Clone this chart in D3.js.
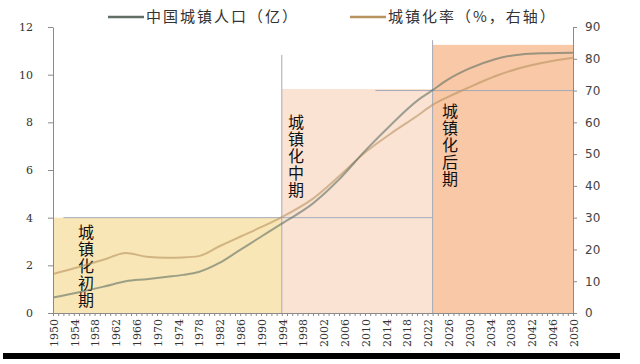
<!DOCTYPE html>
<meta charset="utf-8">
<style>
    body { margin: 0; background: #fff; }
    .axis path, .axis line { stroke: #8a8a8a; }
    .axis text { fill: #333; }
    .ylab text { font: 11px "DejaVu Serif", serif; }
    .y2lab text { font: 12px "DejaVu Sans", sans-serif; fill: #444; }
    .phase { font: 16px "Noto Sans CJK SC", sans-serif; fill: #111; writing-mode: vertical-rl; letter-spacing: 1px; }
    .legend text { font: 15px "Noto Sans CJK SC", sans-serif; fill: #333; letter-spacing: 2px; }
</style>
<svg width="640" height="364"></svg>
<script src="https://cdn.jsdelivr.net/npm/d3@7"></script>
<script>

    // urban population (100 million) and urbanization rate (%)
    var years = [1950, 1955, 1960, 1964, 1968, 1972, 1975, 1978, 1982, 1986, 1990, 1994,
        2000, 2005, 2010, 2015, 2020, 2023, 2026, 2030, 2035, 2040, 2045, 2050];
    var urbanPop = [0.65, 0.87, 1.12, 1.33, 1.42, 1.52, 1.6, 1.72, 2.1, 2.65, 3.2, 3.75,
        4.6, 5.6, 6.8, 7.9, 8.9, 9.35, 9.8, 10.25, 10.65, 10.85, 10.9, 10.92];
    var urbanRate = [12.3, 14.5, 16.9, 18.9, 17.7, 17.4, 17.5, 17.9, 21, 24, 27, 30.2,
        36, 43, 50.5, 56.5, 62, 65.5, 68, 71, 74.5, 77.2, 79, 80.3];

    var seriesNames = ["中国城镇人口（亿）", "城镇化率（%，右轴）"];
    var phaseNames = ["城镇化初期", "城镇化中期", "城镇化后期"];
    var phaseStart = [1950, 1994, 2023];
    var phaseEnd = [1994, 2023, 2050];
    var phaseTop = [4, 9.4, 11.25];   // left-axis units
    var leftTicks = [0, 2, 4, 6, 8, 10, 12];
    var rightTicks = [0, 10, 20, 30, 40, 50, 60, 70, 80, 90];
    var yearLabels = d3.range(1950, 2051, 4);

    var svg = d3.select("svg");

    var x = d3.scaleLinear().domain([1950, 2050]).range([53, 573]);
    var y = d3.scaleLinear().domain([0, 12]).range([313, 27]);
    var y2 = d3.scaleLinear().domain([0, 90]).range([313, 27]);

    var phaseFill = ["#f9e6b6", "#fbe3d4", "#f8c8a7"];

    // shaded phases
    svg.selectAll(".band")
        .data(phaseStart)
        .enter().append("rect")
        .attr("class", "band")
        .attr("x", function (d) { return x(d); })
        .attr("y", function (d, i) { return y(phaseTop[i]); })
        .attr("width", function (d, i) { return x(phaseEnd[i]) - x(d); })
        .attr("height", function (d, i) { return y(0) - y(phaseTop[i]); })
        .attr("fill", function (d, i) { return phaseFill[i]; });

    // guide lines
    var guide = svg.append("g").attr("stroke", "#a3abb8").attr("stroke-width", 1);
    guide.append("line").attr("x1", x(1952)).attr("x2", x(2023)).attr("y1", y(4)).attr("y2", y(4));
    guide.append("line").attr("x1", x(2012)).attr("x2", x(2050)).attr("y1", y2(70)).attr("y2", y2(70));
    guide.append("line").attr("x1", x(1994)).attr("x2", x(1994)).attr("y1", y(0)).attr("y2", y(10.83));
    guide.append("line").attr("x1", x(2023)).attr("x2", x(2023)).attr("y1", y(0)).attr("y2", y(11.45));

    // phase labels, vertical text
    var phasePos = [[86, 224], [296, 114], [450, 103]];
    phaseNames.forEach(function (name, i) {
        svg.append("text").attr("class", "phase")
            .attr("x", phasePos[i][0])
            .attr("y", phasePos[i][1])
            .text(name);
    });

    // lines
    var popColor = "#5f6f64", rateColor = "#b8935f";

    var linePop = d3.line()
        .x(function (d, i) { return x(years[i]); })
        .y(function (d) { return y(d); })
        .curve(d3.curveMonotoneX);

    var lineRate = d3.line()
        .x(function (d, i) { return x(years[i]); })
        .y(function (d) { return y2(d); })
        .curve(d3.curveMonotoneX);

    svg.append("path").datum(urbanRate)
        .attr("d", lineRate)
        .attr("fill", "none").attr("stroke", rateColor)
        .attr("stroke-opacity", 0.6).attr("stroke-width", 2);

    svg.append("path").datum(urbanPop)
        .attr("d", linePop)
        .attr("fill", "none").attr("stroke", popColor)
        .attr("stroke-opacity", 0.6).attr("stroke-width", 2);

    // axes
    svg.append("g").attr("class", "axis ylab")
        .attr("transform", "translate(" + x(1950) + ",0)")
        .call(d3.axisLeft(y).tickValues(leftTicks).tickSize(5).tickPadding(15).tickSizeOuter(0));

    svg.append("g").attr("class", "axis y2lab")
        .attr("transform", "translate(" + x(2050) + ",0)")
        .call(d3.axisRight(y2).tickValues(rightTicks).tickSize(4).tickPadding(8).tickSizeOuter(0));

    svg.append("g").attr("class", "axis")
        .attr("transform", "translate(0," + y(0) + ")")
        .call(d3.axisBottom(x).tickValues(d3.range(1950, 2051, 1)).tickSize(3).tickFormat("").tickSizeOuter(0));

    svg.append("g").selectAll("text")
        .data(yearLabels)
        .enter().append("text")
        .attr("transform", function (d) { return "translate(" + (x(d) + 1) + ",319) rotate(-90)"; })
        .attr("text-anchor", "end")
        .attr("dy", "0.35em")
        .style("font", "11px 'DejaVu Serif', serif")
        .style("fill", "#333")
        .text(function (d) { return d; });

    // legend
    var legend = svg.append("g").attr("class", "legend");
    var legendX = [108, 350];
    var legendColor = [popColor, rateColor];
    seriesNames.forEach(function (name, i) {
        legend.append("line")
            .attr("x1", legendX[i]).attr("x2", legendX[i] + 36)
            .attr("y1", 17).attr("y2", 17)
            .attr("stroke", legendColor[i]).attr("stroke-width", 2.5);
        legend.append("text")
            .attr("x", legendX[i] + 38).attr("y", 22)
            .text(name);
    });

    // black bar at bottom
    svg.append("rect").attr("x", 3).attr("y", 353).attr("width", 617).attr("height", 6).attr("fill", "#000");

</script>
